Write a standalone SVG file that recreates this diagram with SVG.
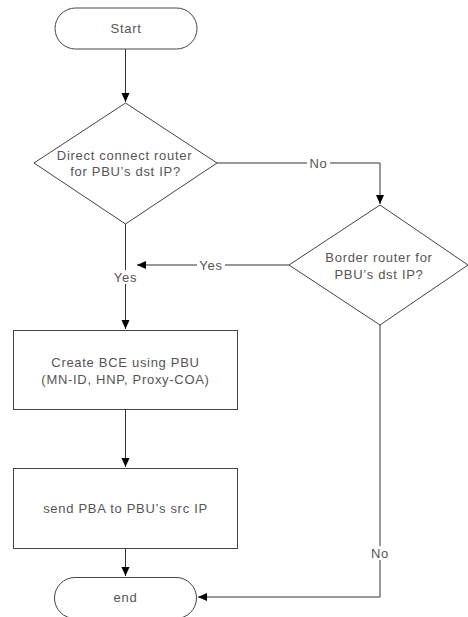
<svg xmlns="http://www.w3.org/2000/svg" width="468" height="617" viewBox="0 0 468 617">
  <style>
    .shape { fill: #ffffff; stroke: #444444; stroke-width: 1; }
    .edge { fill: none; stroke: #333333; stroke-width: 1; }
    .label { font-family: "Liberation Sans", "DejaVu Sans", sans-serif; font-size: 13px; letter-spacing: 0.7px; fill: #555555; text-anchor: middle; dominant-baseline: central; }
    .bg { fill: #ffffff; }
  </style>
  <defs>
    <marker id="arrow" markerWidth="10" markerHeight="10" refX="9" refY="5" orient="auto" markerUnits="userSpaceOnUse">
      <path d="M0,1 L9,5 L0,9 Z" fill="#000000"/>
    </marker>
  </defs>
  <rect width="468" height="617" fill="#ffffff"/>

  <g id="connectors">
    <path class="edge" d="M125.5,49 L125.5,102" marker-end="url(#arrow)"/>
    <path class="edge" d="M217,163 L380,163 L380,204" marker-end="url(#arrow)"/>
    <path class="edge" d="M289,265 L137,265" marker-end="url(#arrow)"/>
    <path class="edge" d="M125.5,224 L125.5,329" marker-end="url(#arrow)"/>
    <path class="edge" d="M125.5,410 L125.5,467" marker-end="url(#arrow)"/>
    <path class="edge" d="M125.5,549 L125.5,576" marker-end="url(#arrow)"/>
    <path class="edge" d="M380,325 L380,597 L198,597" marker-end="url(#arrow)"/>
    <rect class="bg" x="307" y="156" width="23" height="14"/>
    <text class="label" x="318.5" y="163">No</text>
    <rect class="bg" x="197" y="258" width="28" height="14"/>
    <text class="label" x="211" y="265">Yes</text>
    <rect class="bg" x="111" y="270" width="29" height="14"/>
    <text class="label" x="125.5" y="277">Yes</text>
    <rect class="bg" x="369" y="546" width="23" height="14"/>
    <text class="label" x="380" y="553">No</text>
  </g>

  <g id="start">
    <rect class="shape" x="55" y="8" width="142" height="41" rx="20.5" ry="20.5"/>
    <text class="label" x="126" y="28">Start</text>
  </g>

  <g id="decision-direct">
    <polygon class="shape" points="125.5,103 217,163 125.5,224 34,163"/>
    <text class="label" x="124.5" y="155">Direct connect router</text>
    <text class="label" x="125.5" y="171">for PBU’s dst IP?</text>
  </g>

  <g id="decision-border">
    <polygon class="shape" points="380,205 468,265 380,325 289,265"/>
    <text class="label" x="379" y="257">Border router for</text>
    <text class="label" x="379" y="274">PBU’s dst IP?</text>
  </g>

  <g id="create-bce">
    <rect class="shape" x="13.5" y="330.5" width="224" height="79"/>
    <text class="label" x="125.5" y="362">Create BCE using PBU</text>
    <text class="label" x="125.5" y="379">(MN-ID, HNP, Proxy-COA)</text>
  </g>

  <g id="send-pba">
    <rect class="shape" x="13.5" y="468.5" width="224" height="80"/>
    <text class="label" x="125.5" y="508">send PBA to PBU’s src IP</text>
  </g>

  <g id="end">
    <rect class="shape" x="54.5" y="577.5" width="142" height="41" rx="20.5" ry="20.5"/>
    <text class="label" x="125.5" y="597">end</text>
  </g>
</svg>
